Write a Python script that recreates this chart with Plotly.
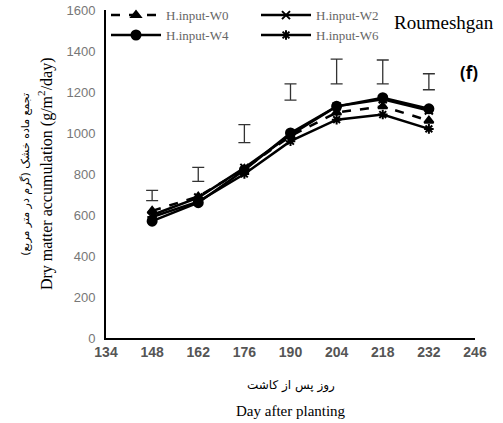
import plotly.graph_objects as go

days = [148, 162, 176, 190, 204, 218, 232]
w0 = [620, 690, 825, 985, 1100, 1130, 1060]
w2 = [600, 685, 830, 990, 1130, 1165, 1110]
w4 = [570, 660, 820, 1000, 1130, 1172, 1118]
w6 = [590, 665, 800, 960, 1065, 1090, 1020]
lsd_center = [695, 798, 997, 1200, 1300, 1298, 1250]
lsd_half = [25, 34, 44, 40, 60, 58, 39]
x_ticks = [134, 148, 162, 176, 190, 204, 218, 232, 246]
y_ticks = [0, 200, 400, 600, 800, 1000, 1200, 1400, 1600]

fig = go.Figure()
series = [
    ("H.input-W0", w0, "dash", "triangle-up", 8),
    ("H.input-W2", w2, "solid", "x-thin", 8),
    ("H.input-W4", w4, "solid", "circle", 9),
    ("H.input-W6", w6, "solid", "asterisk", 8),
]
for name, vals, dash, sym, size in series:
    fig.add_trace(go.Scatter(
        x=days, y=vals, name=name, mode="lines+markers",
        line=dict(color="black", width=2.5, dash=dash),
        marker=dict(symbol=sym, size=size, color="black",
                    line=dict(color="black", width=2)),
    ))

fig.add_trace(go.Scatter(
    x=days, y=lsd_center, mode="markers", showlegend=False,
    marker=dict(size=1, opacity=0),
    error_y=dict(type="data", array=lsd_half, color="#333333",
                 thickness=1.3, width=6),
))

fig.update_layout(
    width=503, height=423,
    margin=dict(l=106, r=28, t=10, b=85, autoexpand=False),
    plot_bgcolor="white", paper_bgcolor="white",
    font=dict(family="Liberation Serif", color="black"),
    legend=dict(orientation="h", x=0, y=1.03, xanchor="left", yanchor="top",
                entrywidth=85, entrywidthmode="pixels",
                font=dict(family="Liberation Serif", size=13, color="#666666"),
                bgcolor="rgba(255,255,255,0)", itemwidth=50,
                tracegroupgap=0),
    showlegend=True,
)
fig.update_xaxes(
    range=[134, 246], tickvals=x_ticks, ticktext=[str(v) for v in x_ticks],
    showgrid=False, zeroline=False, showline=True, linecolor="black", linewidth=2,
    ticks="", tickfont=dict(family="Liberation Sans", size=14, color="#555555", weight="bold"),
)
fig.update_yaxes(
    range=[0, 1600], tickvals=y_ticks, showgrid=False, zeroline=False,
    showline=True, linecolor="black", linewidth=2, ticks="", ticklabelstandoff=6,
    tickfont=dict(family="Liberation Sans", size=13, color="#777777"),
)

fig.add_annotation(xref="paper", yref="paper", x=0.775, y=0.963, xanchor="left",
                   yanchor="middle", text="Roumeshgan", showarrow=False,
                   font=dict(family="Liberation Serif", size=19, color="black"))
fig.add_annotation(xref="paper", yref="paper", x=0.985, y=0.81, xanchor="center",
                   yanchor="middle", text="<b>(f)</b>", showarrow=False,
                   font=dict(family="Open Sans", size=17, color="black"))
fig.add_annotation(xref="paper", yref="paper", x=0.5, y=-0.145, xanchor="center",
                   yanchor="middle", text="روز پس از کاشت", showarrow=False,
                   font=dict(family="DejaVu Sans", size=12, color="black"))
fig.add_annotation(xref="paper", yref="paper", x=0.5, y=-0.222, xanchor="center",
                   yanchor="middle", text="Day after planting", showarrow=False,
                   font=dict(family="Liberation Serif", size=15, color="black"))
fig.add_annotation(xref="paper", yref="paper", x=-0.22, y=0.5, xanchor="center",
                   yanchor="middle", textangle=-90, showarrow=False,
                   text="تجمع ماده خشک (گرم در متر مربع)",
                   font=dict(family="DejaVu Sans", size=11, color="black"))
fig.add_annotation(xref="paper", yref="paper", x=-0.165, y=0.5, xanchor="center",
                   yanchor="middle", textangle=-90, showarrow=False,
                   text="Dry matter accumulation (g/m<sup>2</sup>/day)",
                   font=dict(family="Liberation Serif", size=16, color="black"))

fig.write_html("out.html", config={"displayModeBar": False},
               post_script="document.body.style.margin='0';")
